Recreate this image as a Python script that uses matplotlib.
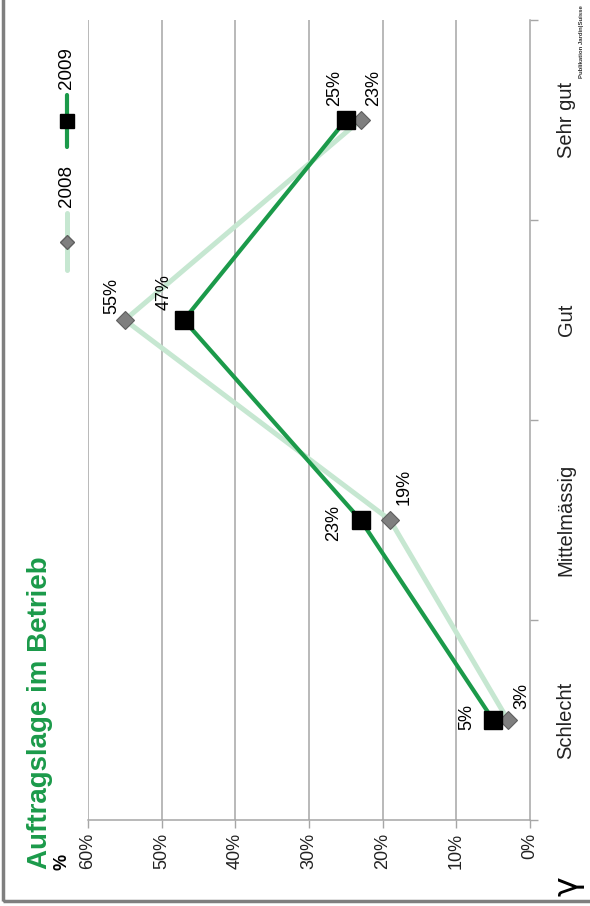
import matplotlib
matplotlib.use("Agg")
import matplotlib.pyplot as plt
from matplotlib.patches import Rectangle
from matplotlib.ticker import FixedLocator, NullFormatter

plt.rcParams['font.family'] = ['Liberation Sans', 'DejaVu Sans']

categories = ["Schlecht", "Mittelmässig", "Gut", "Sehr gut"]
values_2008 = [3, 19, 55, 23]
values_2009 = [5, 23, 47, 25]
value_ticks = [0, 10, 20, 30, 40, 50, 60]
title = "Auftragslage im Betrieb"

W, H = 590, 906
fig = plt.figure(figsize=(W / 100, H / 100), dpi=100)

# axes box in pixels (image coords): x 88..530, y 20..820
L, R, T, B = 88, 530, 20, 820
ax = fig.add_axes([L / W, 1 - B / H, (R - L) / W, (B - T) / H])

GREEN_DARK = "#1b9a4a"
GREEN_LIGHT = "#c6e7d1"
GRID = "#a6a6a6"

ypos = list(range(len(categories)))

ax.plot(values_2008, ypos, color=GREEN_LIGHT, lw=3.6, marker="D", ms=9.5,
        mfc="#7f7f7f", mec="#5f5f5f", mew=0.8, solid_capstyle="round", zorder=3)
ax.plot(values_2009, ypos, color=GREEN_DARK, lw=3.0, marker="s", ms=13,
        mfc="black", mec="black", solid_capstyle="round", zorder=4)

ax.set_xlim(60, 0)
ax.set_ylim(-0.5, len(categories) - 0.5)

# value axis (bottom)
ax.set_xticks(value_ticks)
ax.set_xticklabels([f"{v}%" for v in value_ticks], rotation=90, fontsize=13,
                   color="#222222")
ax.tick_params(axis="x", direction="out", length=6, width=1, color=GRID, pad=3)
for v in value_ticks[1:]:
    ax.axvline(v, color=GRID, lw=1.1, zorder=1)

# category axis (right)
ax.yaxis.tick_right()
ax.yaxis.set_major_locator(FixedLocator([i - 0.5 for i in range(len(categories) + 1)]))
ax.yaxis.set_major_formatter(NullFormatter())
ax.tick_params(axis="y", which="major", direction="out", length=6, width=1, color=GRID)
ax.yaxis.set_minor_locator(FixedLocator(ypos))
ax.set_yticklabels(categories, minor=True, rotation=90, fontsize=14.5,
                   va="center", color="#222222")
ax.tick_params(axis="y", which="minor", length=0, pad=26)
for lab in ax.yaxis.get_minorticklabels():
    lab.set_ha("center")

for s in ["top", "left"]:
    ax.spines[s].set_visible(False)
for s in ["right", "bottom"]:
    ax.spines[s].set_color(GRID)
    ax.spines[s].set_linewidth(1.1)

# data labels (offsets in pixels)
off_2009 = [(-26, 3), (-27, -3), (-20, 28), (-11, 32)]
off_2008 = [(14, 24), (14, 33), (-13, 24), (13, 32)]
for i, v in enumerate(values_2009):
    ax.annotate(f"{v}%", (v, i), xytext=off_2009[i], textcoords="offset pixels",
                rotation=90, ha="center", va="center", fontsize=13, zorder=6)
for i, v in enumerate(values_2008):
    ax.annotate(f"{v}%", (v, i), xytext=off_2008[i], textcoords="offset pixels",
                rotation=90, ha="center", va="center", fontsize=13, zorder=6)

# legend (drawn manually, vertical)
def ax_xy(px, py):
    return (px - L) / (R - L), (B - py) / (B - T)

x0, _ = ax_xy(67, 0)
_, y1 = ax_xy(0, 95)
_, y2 = ax_xy(0, 147)
_, ym = ax_xy(0, 121)
ax.plot([x0, x0], [y1, y2], transform=ax.transAxes, color=GREEN_DARK, lw=3.0,
        solid_capstyle="round", clip_on=False)
ax.plot([x0], [ym], transform=ax.transAxes, marker="s", ms=10, color="black",
        clip_on=False)
_, yt = ax_xy(0, 68)
ax.text(x0, yt, "2009", transform=ax.transAxes, rotation=90, ha="center",
        va="center", fontsize=13.5)
_, y1 = ax_xy(0, 213)
_, y2 = ax_xy(0, 270)
_, ym = ax_xy(0, 242)
ax.plot([x0, x0], [y1, y2], transform=ax.transAxes, color=GREEN_LIGHT, lw=3.6,
        solid_capstyle="round", clip_on=False)
ax.plot([x0], [ym], transform=ax.transAxes, marker="D", ms=7, mfc="#7f7f7f",
        mec="#5f5f5f", clip_on=False)
_, yt = ax_xy(0, 186)
ax.text(x0, yt, "2008", transform=ax.transAxes, rotation=90, ha="center",
        va="center", fontsize=13.5)

# title and unit
fig.text(40 / W, 1 - 713 / H, title, rotation=90, ha="center", va="center",
         fontsize=20, fontweight="bold", color=GREEN_DARK)
fig.text(62 / W, 1 - 862 / H, "%", rotation=90, ha="center", va="center",
         fontsize=13, fontweight="bold")

# publisher mark
fig.text(581 / W, 1 - 42 / H, "Publikation Jardin|Suisse", rotation=90,
         ha="center", va="center", fontsize=4.3, fontweight="bold", color="#333333")
fig.text(568 / W, 1 - 886 / H, "γ", rotation=90, ha="center", va="center",
         fontsize=24, color="black", family=["DejaVu Sans"])

# frame
fig.patches.append(Rectangle((3 / W, 1 - 901 / H), 1.0, 1.0, transform=fig.transFigure,
                             fill=False, edgecolor="#7f7f7f", lw=2.5))

fig.savefig("out.png", dpi=100, facecolor="white")
